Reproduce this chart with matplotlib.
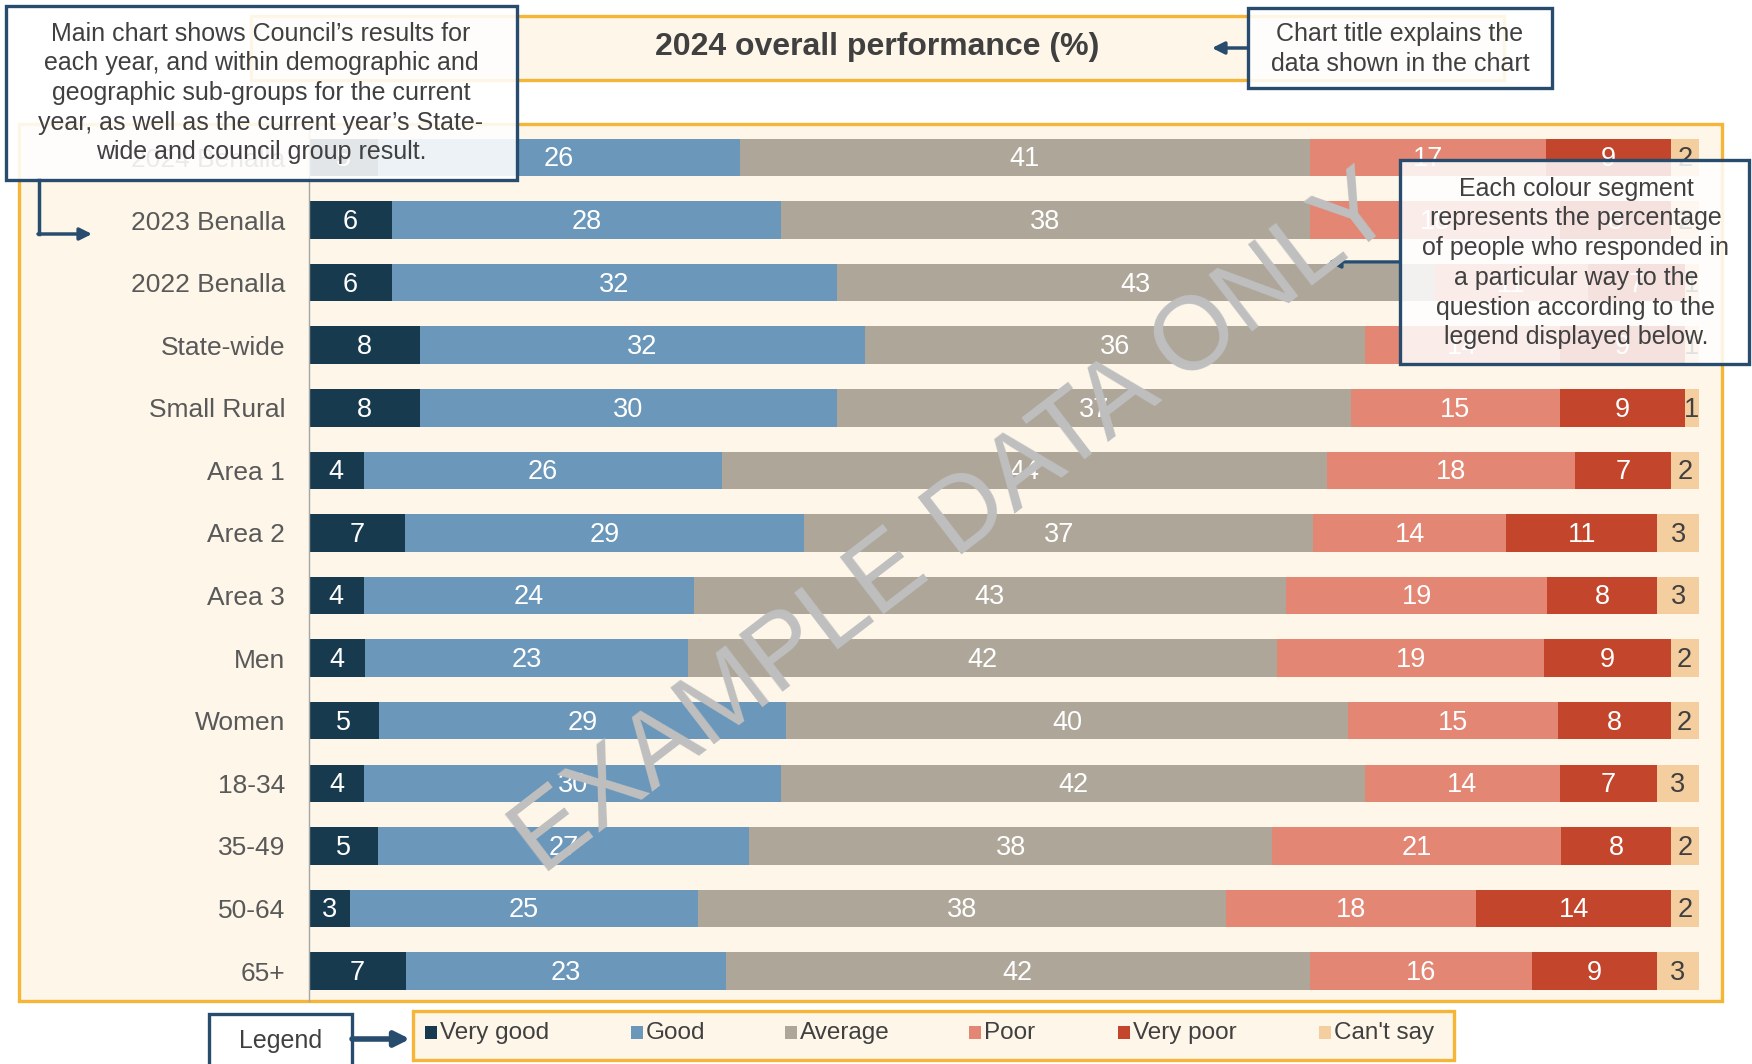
"""
Overall performance 2024, stacked bars with explanatory callouts.
"""
import numpy as np
import matplotlib
matplotlib.use("Agg")
import matplotlib.pyplot as plt
from matplotlib.patches import Rectangle, FancyArrowPatch
from matplotlib.lines import Line2D

plt.rcParams["font.family"] = ["Liberation Sans", "DejaVu Sans"]

CATEGORIES = ["2024 Benalla", "2023 Benalla", "2022 Benalla", "State-wide",
              "Small Rural", "Area 1", "Area 2", "Area 3", "Men", "Women",
              "18-34", "35-49", "50-64", "65+"]
SERIES = ["Very good", "Good", "Average", "Poor", "Very poor", "Can't say"]
VERY_GOOD = [5, 6, 6, 8, 8, 4, 7, 4, 4, 5, 4, 5, 3, 7]
GOOD = [26, 28, 32, 32, 30, 26, 29, 24, 23, 29, 30, 27, 25, 23]
AVERAGE = [41, 38, 43, 36, 37, 44, 37, 43, 42, 40, 42, 38, 38, 42]
POOR = [17, 18, 11, 14, 15, 18, 14, 19, 19, 15, 14, 21, 18, 16]
VERY_POOR = [9, 8, 7, 9, 9, 7, 11, 8, 9, 8, 7, 8, 14, 9]
CANT_SAY = [2, 2, 1, 1, 1, 2, 3, 3, 2, 2, 3, 2, 2, 3]

COLORS = ["#183A4F", "#6A97BA", "#ADA699", "#E38673", "#C3452B", "#F4CE9F"]
LABEL_COLORS = ["white"] * 5 + ["#404040"]

ORANGE = "#F5B536"
CREAM = "#FDF6E9"
NAVY = "#284C6E"
TXT = "#404040"

W, H = 1752, 1064


def P(x, y):
    # pixel position (top-left origin) -> figure fraction
    return (x / W, 1 - y / H)


def box(fig, x0, y0, x1, y1, fc, ec, lw=2.2, alpha=1.0, z=1):
    r = Rectangle(P(x0, y1), (x1 - x0) / W, (y1 - y0) / H,
                  transform=fig.transFigure, facecolor=fc, edgecolor=ec,
                  lw=lw, alpha=alpha, zorder=z)
    fig.add_artist(r)
    return r


def arrow(fig, a, b, lw=2.5, ms=18, z=6):
    fa = FancyArrowPatch(P(*a), P(*b), transform=fig.transFigure,
                         arrowstyle="-|>", mutation_scale=ms, lw=lw,
                         color=NAVY, zorder=z, shrinkA=0, shrinkB=0)
    fig.add_artist(fa)


fig = plt.figure(figsize=(W / 100, H / 100), dpi=100)
fig.patch.set_facecolor("white")

# frames behind the axes
box(fig, 19, 124, 1722, 1001, CREAM, ORANGE, lw=2.4, z=-2)
box(fig, 251, 16, 1504, 80, CREAM, ORANGE, lw=2.4, z=-2)
fig.text(*P(877, 47), "2024 overall performance (%)", ha="center", va="center",
         fontsize=23, fontweight="bold", color=TXT)

left, right, top, bottom = 308.7, 1722, 124, 1001
ax = fig.add_axes([left / W, 1 - bottom / H, (right - left) / W, (bottom - top) / H])
ax.set_facecolor("none")

vals = np.array([VERY_GOOD, GOOD, AVERAGE, POOR, VERY_POOR, CANT_SAY], float)
shares = vals / vals.sum(axis=0) * 100
y = np.arange(len(CATEGORIES))
cum = np.zeros(len(CATEGORIES))
for i, name in enumerate(SERIES):
    ax.barh(y, shares[i], left=cum, height=0.6, color=COLORS[i], lw=0)
    for j in range(len(CATEGORIES)):
        ax.text(cum[j] + shares[i][j] / 2, y[j] + 0.03, f"{int(vals[i][j])}",
                ha="center", va="center", fontsize=19.5, color=LABEL_COLORS[i])
    cum += shares[i]

ax.set_xlim(0, (right - left) / 13.9)
ax.set_ylim(13 + 30 / 62.6, -33.5 / 62.6)
ax.set_yticks(y)
ax.set_yticklabels(CATEGORIES, fontsize=19, color="#595959")
ax.set_xticks([])
ax.tick_params(axis="y", length=0, pad=17)
for s in ("top", "right", "bottom"):
    ax.spines[s].set_visible(False)
ax.spines["left"].set_color("#A6A6A6")
ax.spines["left"].set_linewidth(1)

# legend
box(fig, 413, 1011, 1454, 1060, CREAM, ORANGE, lw=2.4, z=2)
leg_x = [431, 637, 791, 975, 1124, 1325]
for i, name in enumerate(SERIES):
    box(fig, leg_x[i] - 6, 1026, leg_x[i] + 6, 1039, COLORS[i], "none", lw=0, z=3)
    fig.text(*P(leg_x[i] + 9, 1033), name, ha="left", va="center",
             fontsize=17.5, color=TXT, zorder=3)

box(fig, 209, 1014, 352, 1075, "white", NAVY, lw=2.4, z=5)
fig.text(*P(281, 1041), "Legend", ha="center", va="center", fontsize=18,
         color=TXT, zorder=6)
arrow(fig, (352, 1039), (410, 1039), lw=4, ms=22)

# callouts
box(fig, 6, 6, 517, 180, "white", "none", lw=0, alpha=0.88, z=5)
box(fig, 6, 6, 517, 180, "none", NAVY, lw=2.4, z=5)
fig.text(*P(261, 93), "Main chart shows Council\u2019s results for\n"
         "each year, and within demographic and\n"
         "geographic sub-groups for the current\n"
         "year, as well as the current year\u2019s State-\n"
         "wide and council group result.",
         ha="center", va="center", fontsize=18, color=TXT,
         linespacing=1.3, zorder=6)
fig.add_artist(Line2D([39 / W, 39 / W], [1 - 180 / H, 1 - 234 / H],
                      transform=fig.transFigure, color=NAVY, lw=2.5, zorder=6))
arrow(fig, (38, 234), (92, 234))

box(fig, 1248, 8, 1552, 88, "white", "none", lw=0, alpha=0.88, z=5)
box(fig, 1248, 8, 1552, 88, "none", NAVY, lw=2.4, z=5)
fig.text(*P(1400, 49), "Chart title explains the\ndata shown in the chart",
         ha="center", va="center", fontsize=18, color=TXT,
         linespacing=1.3, zorder=6)
arrow(fig, (1248, 48), (1212, 48))

box(fig, 1400, 160, 1749, 364, "white", "none", lw=0, alpha=0.85, z=5)
box(fig, 1400, 160, 1749, 364, "none", NAVY, lw=2.4, z=5)
fig.text(*P(1576, 263), "Each colour segment\nrepresents the percentage\n"
         "of people who responded in\na particular way to the\n"
         "question according to the\nlegend displayed below.",
         ha="center", va="center", fontsize=18, color=TXT,
         linespacing=1.3, zorder=6)
arrow(fig, (1400, 262), (1328, 262))

# watermark
fig.text(*P(955, 526), "EXAMPLE DATA ONLY", rotation=37.5, rotation_mode="anchor",
         ha="center", va="center", fontsize=75, color="#BFBFBF", zorder=20)

fig.savefig("out.png", dpi=100)
